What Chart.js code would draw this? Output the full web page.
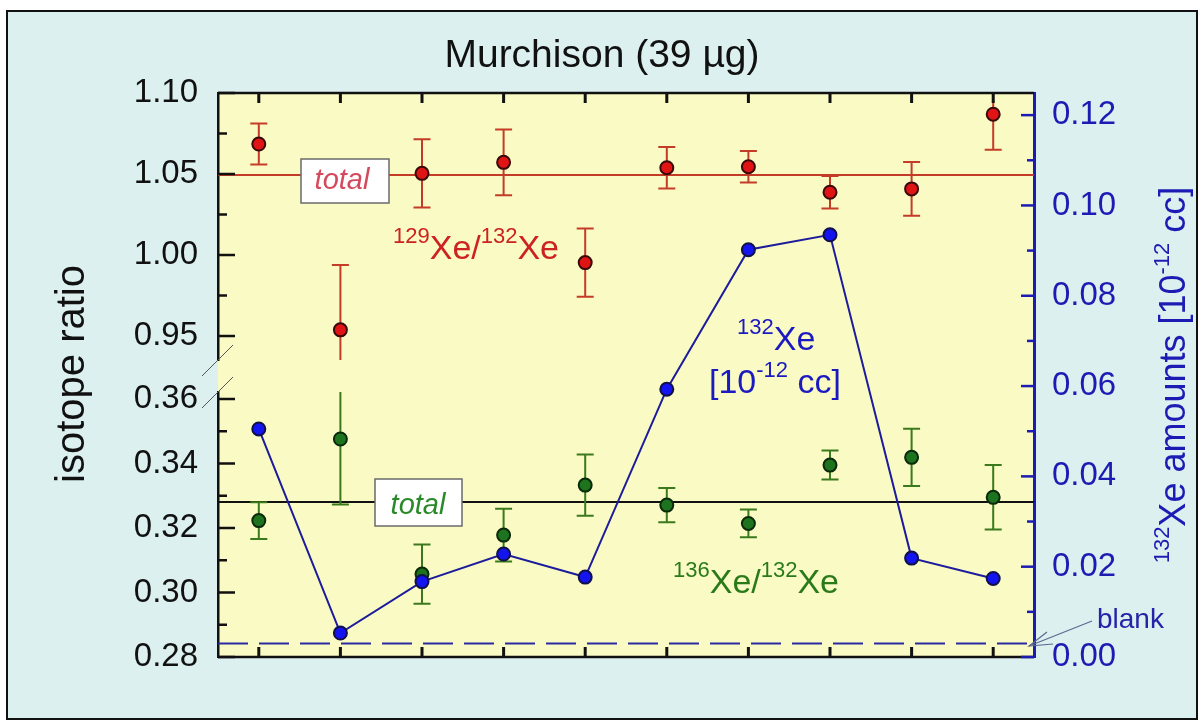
<!DOCTYPE html>
<html>
<head>
<meta charset="utf-8">
<script src="https://cdn.jsdelivr.net/npm/chart.js@4.4.1/dist/chart.umd.min.js"></script>
<style>
  html, body { margin: 0; padding: 0; background: #ffffff; overflow: hidden; }
  canvas { display: block; }
</style>
</head>
<body>
<canvas id="c" width="1204" height="726"></canvas>
<script>
// ---- data ----
const steps = ['1', '2', '3', '4', '5', '6', '7', '8', '9', '10'];
const ratio129 = [1.0685, 0.9538, 1.0504, 1.0572, 0.9953, 1.0539, 1.0545, 1.0387, 1.0408, 1.0869];
const err129   = [0.0127, 0.0400, 0.0210, 0.0203, 0.0210, 0.0128, 0.0097, 0.0100, 0.0166, 0.0220];
const ratio136 = [0.3223, 0.3476, 0.3057, 0.3178, 0.3333, 0.3271, 0.3214, 0.3395, 0.3419, 0.3295];
const err136   = [0.0057, 0.0203, 0.0092, 0.0082, 0.0095, 0.0053, 0.0043, 0.0045, 0.0089, 0.0100];
const amount132 = [0.0505, 0.0053, 0.0167, 0.0228, 0.0177, 0.0593, 0.0902, 0.0935, 0.0219, 0.0174];
const total129 = 1.0494;
const total136 = 0.3281;
const blank132 = 0.003;

// tick values
const majorUpper = [1.10, 1.05, 1.00, 0.95];
const minorUpper = [1.075, 1.025, 0.975];
const majorLower = [0.36, 0.34, 0.32, 0.30, 0.28];
const minorLower = [0.35, 0.33, 0.31, 0.29];
const majorRight = [0.00, 0.02, 0.04, 0.06, 0.08, 0.10, 0.12];
const minorRight = [0.01, 0.03, 0.05, 0.07, 0.09, 0.11];

const FONT = '"Liberation Sans", Arial, sans-serif';
const RED_BAR = '#c43c28';
const GREEN_BAR = '#3a7a1c';
const BLUE = '#1c1cb4';

function rich(ctx, parts, x, y, main, sup, rise, color, align) {
  let w = 0;
  parts.forEach(p => { ctx.font = (p.s ? sup : main) + 'px ' + FONT; w += ctx.measureText(p.t).width; });
  let cx = align === 'center' ? x - w / 2 : x;
  ctx.fillStyle = color;
  ctx.textAlign = 'left';
  ctx.textBaseline = 'alphabetic';
  parts.forEach(p => {
    ctx.font = (p.s ? sup : main) + 'px ' + FONT;
    ctx.fillText(p.t, cx, p.s ? y - rise : y);
    cx += ctx.measureText(p.t).width;
  });
}

function errBars(chart, id, vals, errs, color) {
  const ctx = chart.ctx, a = chart.chartArea, ys = chart.scales[id], xs = chart.scales.x;
  ctx.save();
  ctx.beginPath();
  ctx.rect(a.left, ys.top, a.right - a.left, ys.bottom - ys.top);
  ctx.clip();
  ctx.strokeStyle = color;
  ctx.lineWidth = 2;
  vals.forEach((v, i) => {
    const x = xs.getPixelForValue(i);
    const y1 = ys.getPixelForValue(v + errs[i]);
    const y2 = ys.getPixelForValue(v - errs[i]);
    ctx.beginPath();
    ctx.moveTo(x, y1); ctx.lineTo(x, y2);
    ctx.moveTo(x - 8.5, y1); ctx.lineTo(x + 8.5, y1);
    ctx.moveTo(x - 8.5, y2); ctx.lineTo(x + 8.5, y2);
    ctx.stroke();
  });
  ctx.restore();
}

function ticks(ctx, scale, vals, x0, len, color, w) {
  ctx.strokeStyle = color; ctx.lineWidth = w;
  vals.forEach(v => {
    const y = scale.getPixelForValue(v);
    ctx.beginPath(); ctx.moveTo(x0, y); ctx.lineTo(x0 + len, y); ctx.stroke();
  });
}

const decor = {
  id: 'decor',
  beforeDraw(chart) {
    const { ctx, chartArea: a } = chart;
    ctx.save();
    ctx.fillStyle = '#ffffff';
    ctx.fillRect(0, 0, chart.width, chart.height);
    ctx.fillStyle = '#dcf0f0';
    ctx.fillRect(7, 11, 1190, 708);
    ctx.strokeStyle = '#111111';
    ctx.lineWidth = 2;
    ctx.strokeRect(7, 11, 1190, 708);
    ctx.fillStyle = '#fafac4';
    ctx.fillRect(a.left, a.top, a.right - a.left, a.bottom - a.top);
    ctx.restore();
  },
  beforeDatasetsDraw(chart) {
    const { ctx, chartArea: a, scales } = chart;
    ctx.save();
    // total lines
    let y = scales.yU.getPixelForValue(total129);
    ctx.strokeStyle = RED_BAR; ctx.lineWidth = 2;
    ctx.beginPath(); ctx.moveTo(a.left, y); ctx.lineTo(a.right, y); ctx.stroke();
    y = scales.yL.getPixelForValue(total136);
    ctx.strokeStyle = '#111111';
    ctx.beginPath(); ctx.moveTo(a.left, y); ctx.lineTo(a.right, y); ctx.stroke();
    // blank dashed
    y = scales.yR.getPixelForValue(blank132);
    ctx.strokeStyle = '#2a2aa0'; ctx.lineWidth = 2; ctx.setLineDash([30, 11]);
    ctx.beginPath(); ctx.moveTo(a.left, y); ctx.lineTo(a.right, y); ctx.stroke();
    ctx.setLineDash([]);
    // total boxes
    ctx.fillStyle = '#ffffff'; ctx.strokeStyle = '#6a6a6a'; ctx.lineWidth = 1.5;
    ctx.fillRect(301, 159, 88, 44); ctx.strokeRect(301, 159, 88, 44);
    ctx.fillRect(375, 479, 87, 47); ctx.strokeRect(375, 479, 87, 47);
    ctx.font = 'italic 29px ' + FONT; ctx.textAlign = 'center'; ctx.textBaseline = 'alphabetic';
    ctx.fillStyle = '#d44a5c'; ctx.fillText('total', 342, 189);
    ctx.fillStyle = '#2a8a2a'; ctx.fillText('total', 418, 514);
    ctx.restore();
    errBars(chart, 'yU', ratio129, err129, RED_BAR);
    errBars(chart, 'yL', ratio136, err136, GREEN_BAR);
  },
  afterDatasetsDraw(chart) {
    const { ctx, chartArea: a, scales } = chart;
    ctx.save();
    // top & bottom frame
    ctx.strokeStyle = '#111111'; ctx.lineWidth = 2.5;
    ctx.beginPath(); ctx.moveTo(a.left, a.top); ctx.lineTo(a.right, a.top); ctx.stroke();
    ctx.beginPath(); ctx.moveTo(a.left, a.bottom); ctx.lineTo(a.right, a.bottom); ctx.stroke();
    // x ticks (inward)
    ctx.lineWidth = 3;
    steps.forEach((s, i) => {
      const x = scales.x.getPixelForValue(i);
      ctx.beginPath(); ctx.moveTo(x, a.bottom); ctx.lineTo(x, a.bottom - 10); ctx.stroke();
      ctx.beginPath(); ctx.moveTo(x, a.top); ctx.lineTo(x, a.top + 10); ctx.stroke();
    });
    // y ticks (inward)
    ticks(ctx, scales.yU, majorUpper, a.left, 17, '#111111', 2.5);
    ticks(ctx, scales.yU, minorUpper, a.left, 9, '#111111', 2.5);
    ticks(ctx, scales.yL, majorLower, a.left, 17, '#111111', 2.5);
    ticks(ctx, scales.yL, minorLower, a.left, 9, '#111111', 2.5);
    ticks(ctx, scales.yR, majorRight, a.right, -13, BLUE, 2.5);
    ticks(ctx, scales.yR, minorRight, a.right, -7, BLUE, 2.5);
    // axis break marks
    ctx.strokeStyle = '#555555'; ctx.lineWidth = 1;
    [scales.yU.bottom, scales.yL.top].forEach(yb => {
      ctx.beginPath(); ctx.moveTo(a.left - 16, yb + 16); ctx.lineTo(a.left + 15, yb - 15); ctx.stroke();
    });
    // in-plot labels
    rich(ctx, [{ t: '129', s: 1 }, { t: 'Xe/' }, { t: '132', s: 1 }, { t: 'Xe' }], 393, 259, 34, 22, 16, '#cc2222', 'left');
    rich(ctx, [{ t: '132', s: 1 }, { t: 'Xe' }], 737, 350, 34, 22, 16, '#1a1ac0', 'left');
    rich(ctx, [{ t: '[10' }, { t: '-12', s: 1 }, { t: ' cc]' }], 709, 393, 34, 22, 16, '#1a1ac0', 'left');
    rich(ctx, [{ t: '136', s: 1 }, { t: 'Xe/' }, { t: '132', s: 1 }, { t: 'Xe' }], 673, 593, 34, 22, 16, '#2a7a1a', 'left');
    // blank label + arrow
    ctx.font = '28px ' + FONT; ctx.fillStyle = '#2424a8'; ctx.textAlign = 'left'; ctx.textBaseline = 'alphabetic';
    ctx.fillText('blank', 1097, 628);
    ctx.strokeStyle = '#5a6a90'; ctx.lineWidth = 1.2;
    ctx.beginPath(); ctx.moveTo(1092, 621); ctx.lineTo(1029, 646); ctx.stroke();
    ctx.beginPath(); ctx.moveTo(1047, 632); ctx.lineTo(1029, 646); ctx.lineTo(1053, 644); ctx.stroke();
    // axis titles
    ctx.save();
    ctx.translate(84, 374); ctx.rotate(-Math.PI / 2);
    ctx.font = '40px ' + FONT; ctx.fillStyle = '#111111'; ctx.textAlign = 'center'; ctx.textBaseline = 'alphabetic';
    ctx.fillText('isotope ratio', 0, 0);
    ctx.restore();
    ctx.save();
    ctx.translate(1185, 375); ctx.rotate(-Math.PI / 2);
    rich(ctx, [{ t: '132', s: 1 }, { t: 'Xe amounts [10' }, { t: '-12', s: 1 }, { t: ' cc]' }], 0, 0, 36, 22, 16, BLUE, 'center');
    ctx.restore();
    ctx.restore();
  }
};

const fix = (w) => (s) => { s.width = w; };
const setTicks = (arr) => (s) => { s.ticks = arr.map(v => ({ value: v })); };

new Chart(document.getElementById('c'), {
  type: 'line',
  data: {
    labels: steps,
    datasets: [
      {
        label: '132Xe amounts', data: amount132, yAxisID: 'yR', order: 0,
        borderColor: '#1c1c9c', borderWidth: 2, tension: 0, showLine: true,
        pointRadius: 6.5, pointBackgroundColor: '#1414f0', pointBorderColor: '#10104a', pointBorderWidth: 2
      },
      {
        label: '129Xe/132Xe', data: ratio129, yAxisID: 'yU', order: 1, showLine: false,
        pointRadius: 6.5, pointBackgroundColor: '#e01414', pointBorderColor: '#3a0a0a', pointBorderWidth: 2
      },
      {
        label: '136Xe/132Xe', data: ratio136, yAxisID: 'yL', order: 2, showLine: false,
        pointRadius: 6.5, pointBackgroundColor: '#1e741e', pointBorderColor: '#0a2a0a', pointBorderWidth: 2
      }
    ]
  },
  options: {
    responsive: false,
    devicePixelRatio: 1,
    animation: false,
    layout: { padding: { left: 0, right: 0, top: 0, bottom: 69 } },
    plugins: {
      legend: { display: false },
      tooltip: { enabled: false },
      title: {
        display: true, text: 'Murchison (39 µg)', color: '#111111',
        font: { family: FONT, size: 39, weight: 'normal' },
        padding: { top: 33, bottom: 13.2 }
      }
    },
    scales: {
      x: { type: 'category', offset: true, display: false },
      yU: {
        type: 'linear', position: 'left', stack: 'ratio', stackWeight: 267, weight: 3,
        min: 0.93519, max: 1.10,
        afterBuildTicks: setTicks(majorUpper), afterFit: fix(218),
        ticks: { autoSkip: false, color: '#111111', font: { family: FONT, size: 33 }, padding: 20, callback: v => v.toFixed(2) },
        grid: { display: false, drawTicks: false },
        border: { display: true, color: '#111111', width: 2.5 }
      },
      yGap: {
        type: 'linear', position: 'left', stack: 'ratio', stackWeight: 32, weight: 2,
        min: 0, max: 1, afterFit: fix(218),
        ticks: { display: false },
        grid: { display: false, drawTicks: false },
        border: { display: false }
      },
      yL: {
        type: 'linear', position: 'left', stack: 'ratio', stackWeight: 265, weight: 1,
        min: 0.28, max: 0.36217,
        afterBuildTicks: setTicks(majorLower), afterFit: fix(218),
        ticks: { autoSkip: false, color: '#111111', font: { family: FONT, size: 33 }, padding: 20, callback: v => v.toFixed(2) },
        grid: { display: false, drawTicks: false },
        border: { display: true, color: '#111111', width: 2.5 }
      },
      yR: {
        type: 'linear', position: 'right',
        min: 0, max: 0.1249,
        afterBuildTicks: setTicks(majorRight), afterFit: fix(170),
        ticks: { autoSkip: false, color: BLUE, font: { family: FONT, size: 33 }, padding: 18, callback: v => v.toFixed(2) },
        grid: { display: false, drawTicks: false },
        border: { display: true, color: BLUE, width: 3 }
      }
    }
  },
  plugins: [decor]
});
</script>
</body>
</html>
